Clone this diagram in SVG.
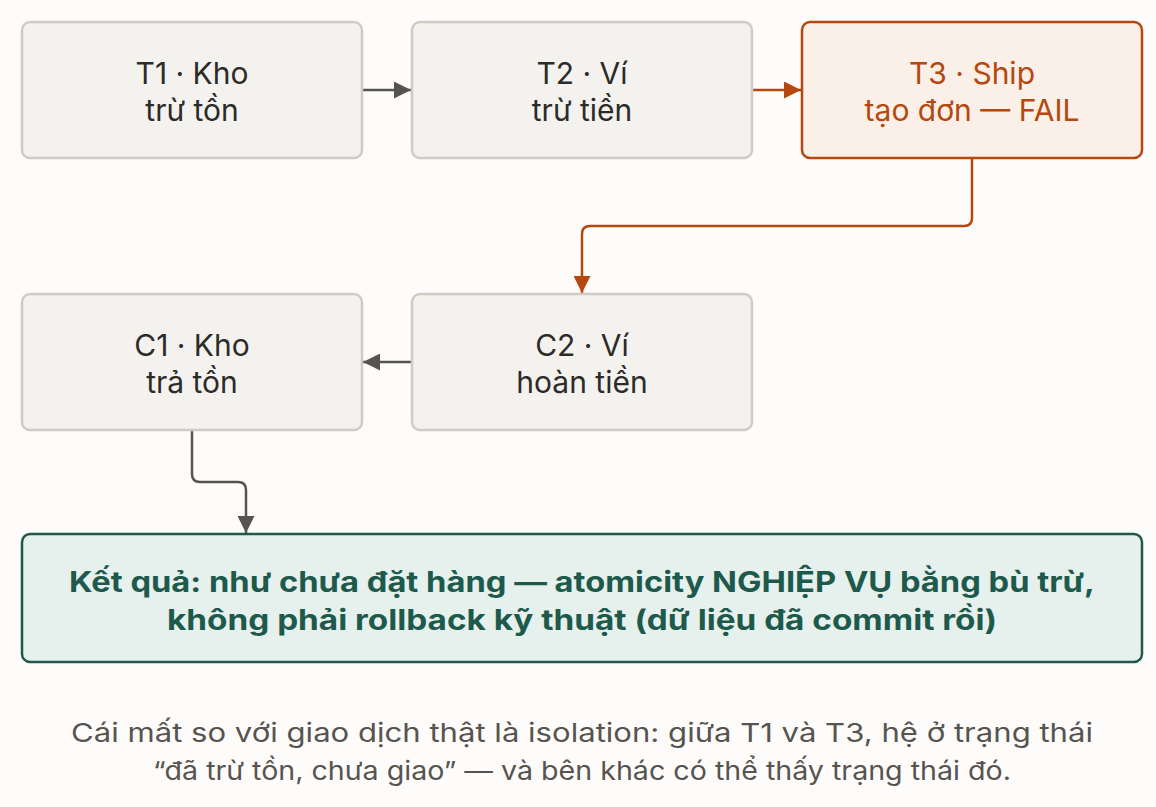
<svg xmlns="http://www.w3.org/2000/svg" width="1156" height="807" viewBox="0 0 1156 807">
<style>
text{font-family:Inter,"Noto Sans",sans-serif;text-anchor:middle}
.n{fill:#f3f2ef;stroke:#cfccc6;stroke-width:2.5}
.nt{font-size:30px;fill:#2d2b28}
.f{fill:#fbf0e8;stroke:#b5470f;stroke-width:2.5}
.ft{font-size:30px;fill:#b5470f}
.c{fill:none;stroke:#55544f;stroke-width:2.5}
.co{fill:none;stroke:#b5470f;stroke-width:2.5}
</style>
<defs>
<marker id="a" viewBox="0 0 10 10" refX="10" refY="5" markerWidth="17" markerHeight="17" markerUnits="userSpaceOnUse" orient="auto"><path d="M0,0L10,5L0,10z" fill="#55544f"/></marker>
<marker id="ao" viewBox="0 0 10 10" refX="10" refY="5" markerWidth="17" markerHeight="17" markerUnits="userSpaceOnUse" orient="auto"><path d="M0,0L10,5L0,10z" fill="#b5470f"/></marker>
</defs>
<rect width="1156" height="807" fill="#fdfcfb"/>
<g id="connectors">
<path class="c" d="M362,90H411" marker-end="url(#a)"/>
<path class="co" d="M752,90H801" marker-end="url(#ao)"/>
<path class="co" d="M972,158V218Q972,226 964,226H590Q582,226 582,234V293" marker-end="url(#ao)"/>
<path class="c" d="M412,362H363" marker-end="url(#a)"/>
<path class="c" d="M192,430V474Q192,482 200,482H238Q246,482 246,490V533" marker-end="url(#a)"/>
</g>
<g id="t1"><rect class="n" x="22" y="22" width="340" height="136" rx="8"/><text class="nt" x="192" y="84">T1 · Kho</text><text class="nt" x="192" y="121">trừ tồn</text></g>
<g id="t2"><rect class="n" x="412" y="22" width="340" height="136" rx="8"/><text class="nt" x="582" y="84">T2 · Ví</text><text class="nt" x="582" y="121">trừ tiền</text></g>
<g id="t3"><rect class="f" x="802" y="22" width="340" height="136" rx="8"/><text class="ft" x="972" y="84">T3 · Ship</text><text class="ft" x="972" y="121">tạo đơn — FAIL</text></g>
<g id="c1"><rect class="n" x="22" y="294" width="340" height="136" rx="8"/><text class="nt" x="192" y="356">C1 · Kho</text><text class="nt" x="192" y="393">trả tồn</text></g>
<g id="c2"><rect class="n" x="412" y="294" width="340" height="136" rx="8"/><text class="nt" x="582" y="356">C2 · Ví</text><text class="nt" x="582" y="393">hoàn tiền</text></g>
<g id="result"><rect x="22" y="534" width="1120" height="128" rx="8" fill="#e6f0ed" stroke="#1e5a4c" stroke-width="2.5"/>
<text x="582" y="592" font-size="28" font-weight="bold" fill="#1e5a4c" textLength="1026" lengthAdjust="spacingAndGlyphs">Kết quả: như chưa đặt hàng — atomicity NGHIỆP VỤ bằng bù trừ,</text>
<text x="582" y="630" font-size="28" font-weight="bold" fill="#1e5a4c" textLength="830" lengthAdjust="spacingAndGlyphs">không phải rollback kỹ thuật (dữ liệu đã commit rồi)</text></g>
<g id="note" font-size="26" fill="#57544f">
<text x="582" y="742" textLength="1022" lengthAdjust="spacingAndGlyphs">Cái mất so với giao dịch thật là isolation: giữa T1 và T3, hệ ở trạng thái</text>
<text x="582" y="780" textLength="858" lengthAdjust="spacingAndGlyphs">“đã trừ tồn, chưa giao” — và bên khác có thể thấy trạng thái đó.</text></g>
</svg>
